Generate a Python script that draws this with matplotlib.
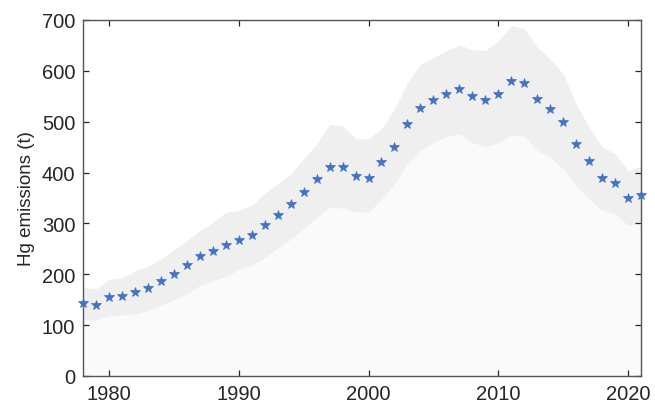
import numpy as np
import matplotlib
matplotlib.use('Agg')
import matplotlib.pyplot as plt

plt.rcParams['font.family'] = ['Liberation Sans', 'DejaVu Sans']

years = np.arange(1978, 2022)

# central estimate (stars)
hg = [144, 140, 155, 157, 165, 173, 186, 200, 218, 235,
      245, 258, 267, 277, 296, 317, 338, 362, 387, 411,
      410, 393, 390, 420, 450, 495, 527, 543, 555, 564,
      551, 543, 555, 581, 577, 545, 525, 499, 457, 422,
      389, 379, 350, 356]

# upper bound of the uncertainty band
hg_upper = [174, 171, 190, 193, 206, 216, 230, 248, 266, 286,
            302, 322, 325, 336, 359, 378, 397, 427, 456, 495,
            492, 467, 466, 486, 525, 577, 613, 626, 640, 651,
            642, 640, 659, 689, 683, 646, 623, 594, 535, 489,
            450, 437, 404, 413]

# lower bound of the uncertainty band
hg_lower = [112, 109, 119, 120, 122, 128, 140, 150, 161, 178,
            187, 196, 209, 218, 233, 251, 269, 290, 311, 332,
            330, 323, 322, 348, 377, 417, 443, 459, 471, 476,
            459, 451, 458, 474, 472, 443, 430, 407, 374, 348,
            325, 319, 296, 301]

fig = plt.figure(figsize=(6.55, 4.10), dpi=100)
ax = fig.add_axes([0.1267, 0.0805, 0.852, 0.8683])

ax.fill_between(years, 0, hg_lower, color='#fafafa', linewidth=0)
ax.fill_between(years, hg_lower, hg_upper, color='#efefef', linewidth=0)
ax.plot(years, hg, linestyle='none', marker='*', markersize=7.5,
        color='#4472c4', markeredgewidth=0.5, clip_on=False, zorder=5)

ax.set_xlim(1978, 2021)
ax.set_ylim(0, 700)
ax.set_xticks([1980, 1990, 2000, 2010, 2020])
ax.set_yticks(np.arange(0, 701, 100))
ax.set_ylabel('Hg emissions (t)', fontsize=13.5, color='#262626', labelpad=5)

for s in ax.spines.values():
    s.set_color('#555555')
    s.set_linewidth(1.0)
ax.tick_params(direction='in', length=4, width=0.9, color='#262626',
               labelsize=14.5, labelcolor='#262626', top=True, right=True, pad=5.5)

fig.savefig('out.png', dpi=100)
